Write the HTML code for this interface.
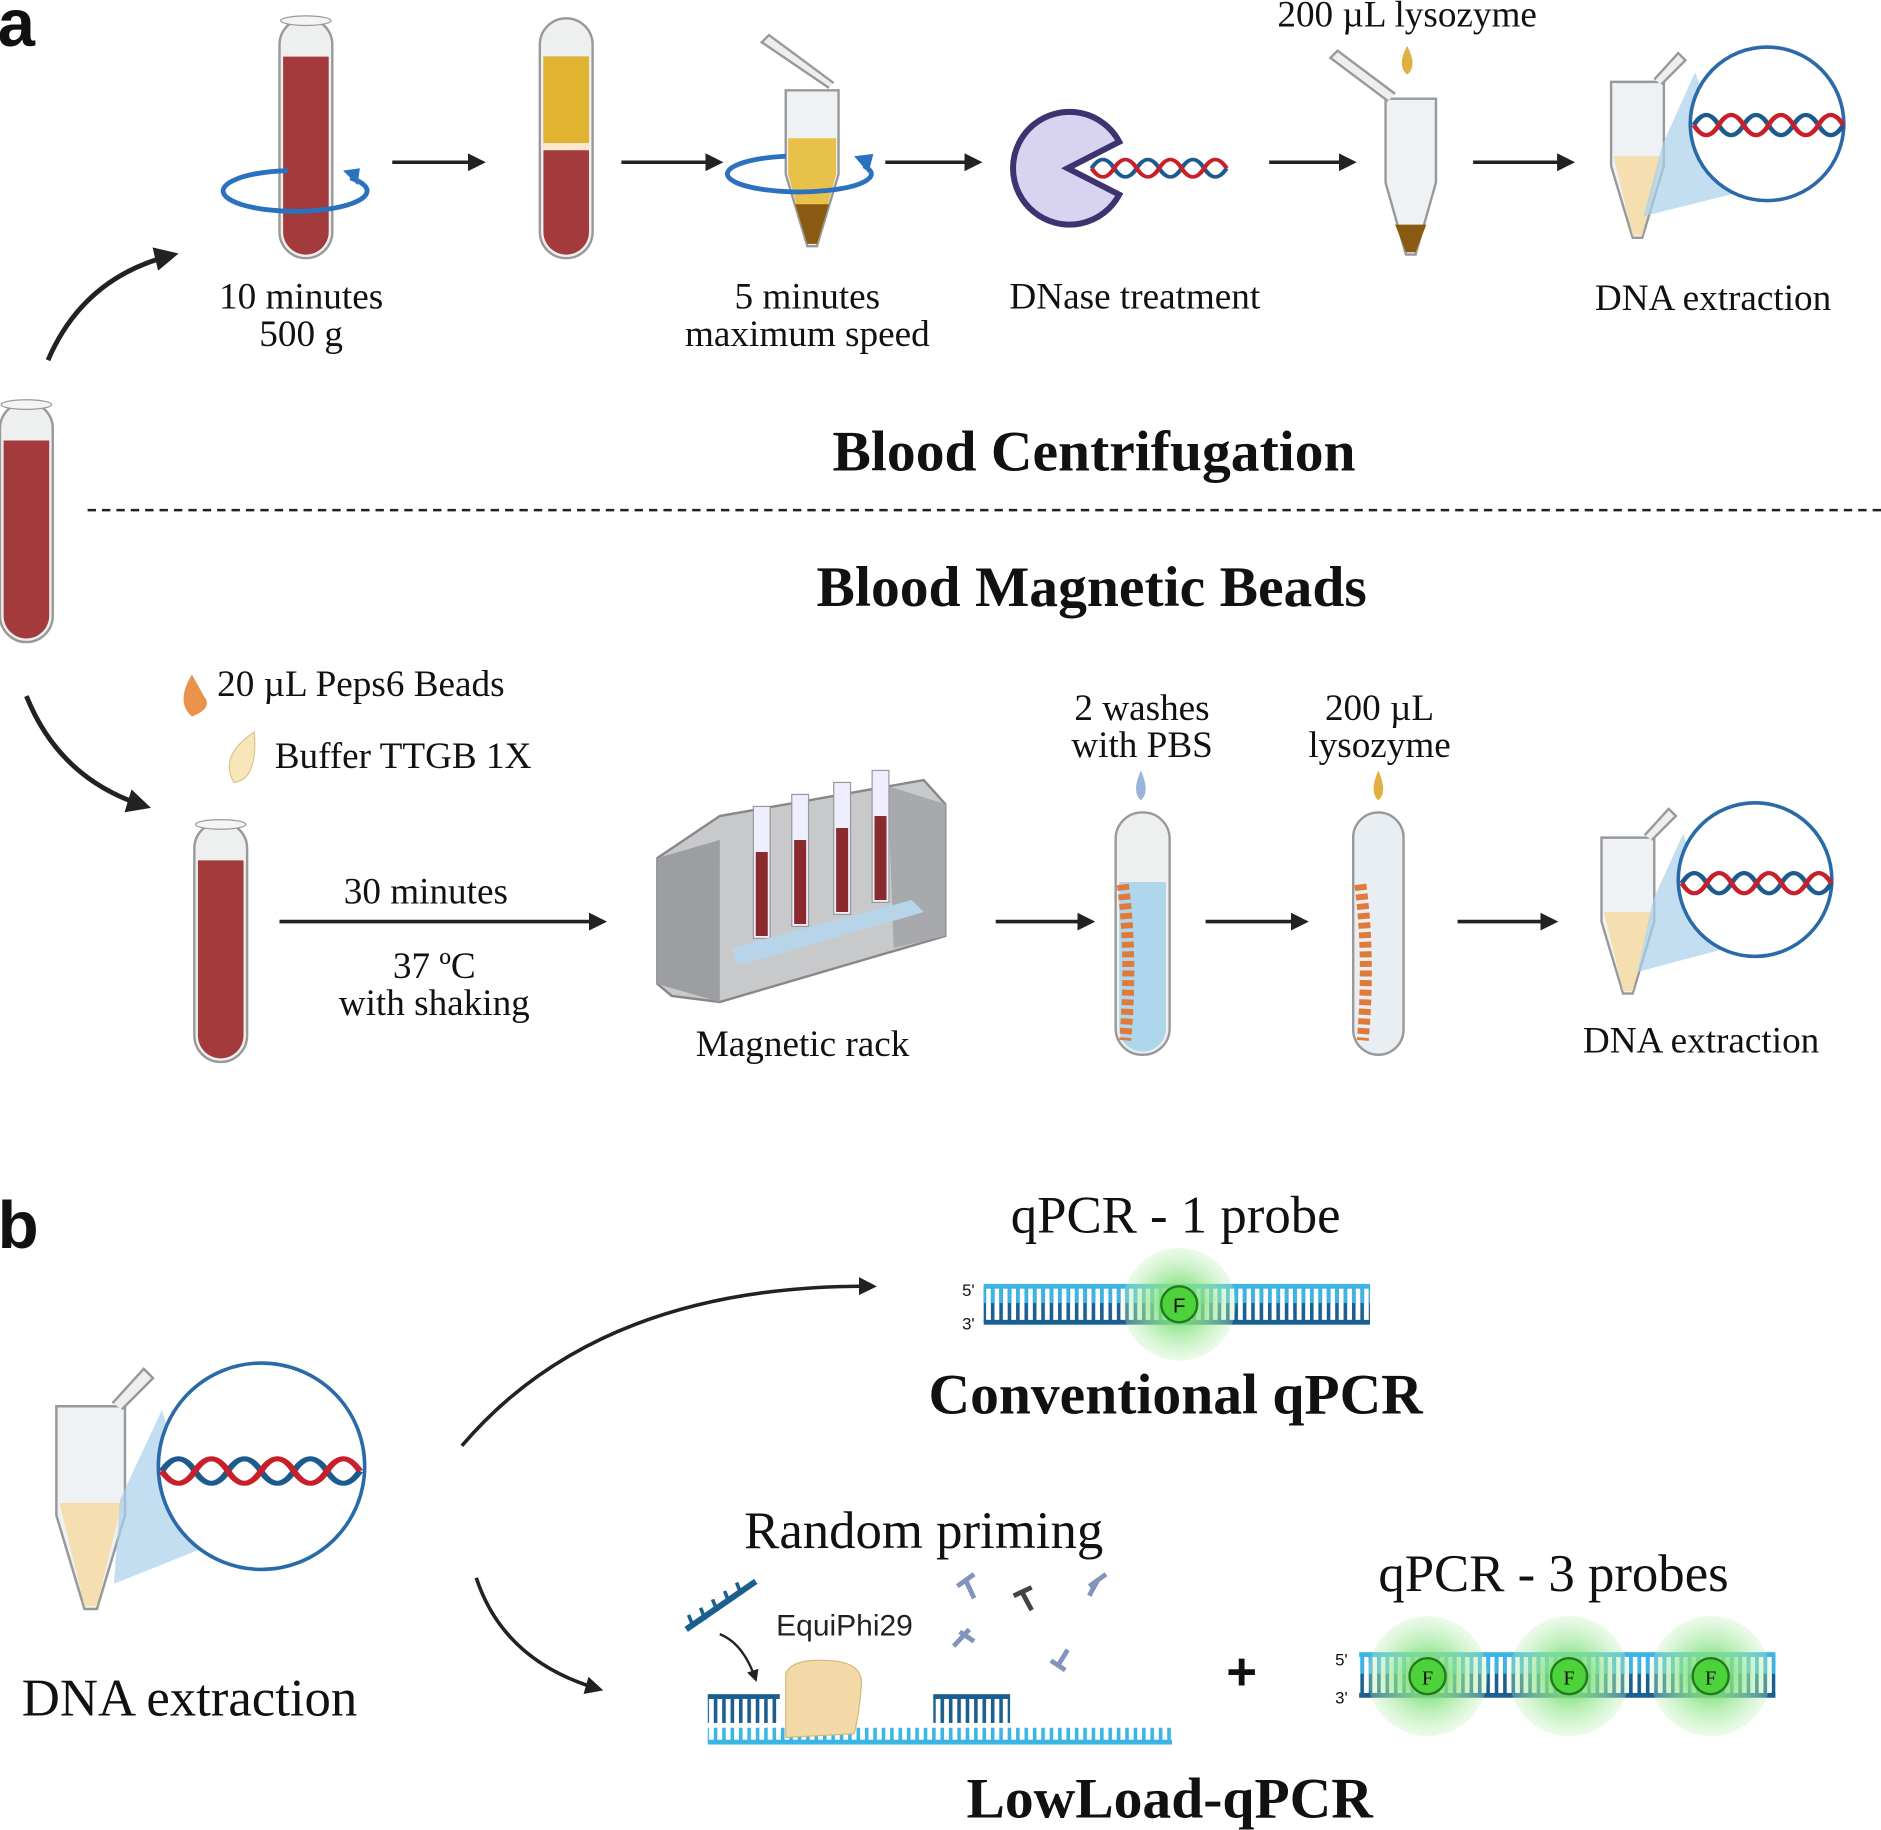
<!DOCTYPE html>
<html><head><meta charset="utf-8"><style>
html,body{margin:0;padding:0;background:#fff;}
svg{display:block;}
text{font-family:"Liberation Serif",serif;fill:#111;}
.s{font-size:31px;}
.t{font-size:48px;font-weight:bold;}
.m{font-size:44px;}
</style></head><body>
<svg width="1881" height="1830" viewBox="0 0 1568 1525" xmlns="http://www.w3.org/2000/svg">
<defs>
<marker id="ah" viewBox="0 0 10 10" refX="8" refY="5" markerWidth="5" markerHeight="5" orient="auto"><path d="M0,0 L10,5 L0,10 z" fill="#222"/></marker>
<pattern id="rungs" width="7" height="40" patternUnits="userSpaceOnUse"><rect x="0" y="0" width="3" height="40" fill="#1a5f8f"/></pattern>
<pattern id="rungs2" width="7" height="40" patternUnits="userSpaceOnUse"><rect x="0" y="0" width="3" height="40" fill="#3bb4e6"/></pattern>
<radialGradient id="glow"><stop offset="0.3" stop-color="#7ee07a" stop-opacity="0.9"/><stop offset="1" stop-color="#bff0b8" stop-opacity="0.3"/></radialGradient>
<g id="tubeR">
 <rect x="0" y="0" width="44" height="200" rx="22" fill="#eef0f0" stroke="#999" stroke-width="2"/>
 <path d="M3,32 H41 V178 A19,19 0 0 1 3,178 Z" fill="#a33a3b"/>
 <ellipse cx="22" cy="2" rx="21" ry="4" fill="#f4f4f4" stroke="#999"/>
</g>
<g id="epp">
 <path d="M0,0 H44 V70 L26,130 H18 L0,70 Z" fill="#eef2f4" stroke="#999" stroke-width="2"/>
 <path d="M2,62 H42 L26,128 H18 Z" fill="#f5deb0"/>
 <path d="M36,-2 L56,-24 L62,-18 L42,2" fill="#eee" stroke="#999" stroke-width="2"/>
</g>
<g id="dna">
 <path d="M0,0 q12.5,-24 25,0 t25,0 t25,0 t25,0 t25,0 t25,0" fill="none" stroke="#1d5a8e" stroke-width="5"/>
 <path d="M0,0 q12.5,24 25,0 t25,0 t25,0 t25,0 t25,0 t25,0" fill="none" stroke="#c8202a" stroke-width="5"/>
</g>
</defs>

<text x="-2" y="38" style="font-family:'Liberation Sans',sans-serif;font-size:56px;font-weight:bold">a</text>
<text x="-2" y="1040" style="font-family:'Liberation Sans',sans-serif;font-size:56px;font-weight:bold">b</text>

<use href="#tubeR" x="0" y="335"/>
<path d="M40,300 Q70,230 145,212" fill="none" stroke="#222" stroke-width="4" marker-end="url(#ah)"/>
<path d="M22,580 Q50,650 122,672" fill="none" stroke="#222" stroke-width="4" marker-end="url(#ah)"/>

<use href="#tubeR" x="233" y="15"/>
<path d="M240,142 A60,17 0 1 0 292,148" fill="none" stroke="#2a72c0" stroke-width="4"/>
<path d="M286,142 L298,154 L300,140 z" fill="#2a72c0"/>
<text x="251" y="257" class="s" text-anchor="middle">10 minutes</text>
<text x="251" y="288" class="s" text-anchor="middle">500 g</text>
<line x1="327" y1="135" x2="402" y2="135" stroke="#222" stroke-width="3" marker-end="url(#ah)"/>

<g transform="translate(450,15)">
 <rect x="0" y="0" width="44" height="200" rx="22" fill="#eef0f0" stroke="#999" stroke-width="2"/>
 <path d="M3,32 H41 V178 A19,19 0 0 1 3,178 Z" fill="#a33a3b"/>
 <rect x="3" y="32" width="38" height="74" fill="#e0b431"/>
 <rect x="3" y="104" width="38" height="6" fill="#fbe6cf"/>
</g>
<line x1="518" y1="135" x2="600" y2="135" stroke="#222" stroke-width="3" marker-end="url(#ah)"/>

<g transform="translate(655,75)">
 <path d="M0,0 H44 V70 L26,130 H18 L0,70 Z" fill="#eef2f4" stroke="#999" stroke-width="2"/>
 <path d="M2,40 H42 V70 L26,128 H18 L2,70 Z" fill="#e8c14a"/>
 <path d="M8,95 H36 L26,128 H18 Z" fill="#8a5a12"/>
 <path d="M36,-2 L-20,-40 L-14,-46 L40,-6" fill="#eee" stroke="#999" stroke-width="2"/>
</g>
<path d="M655,130 A60,15 0 1 0 720,138" fill="none" stroke="#2a72c0" stroke-width="4"/>
<path d="M712,130 L724,144 L728,128 z" fill="#2a72c0"/>
<text x="673" y="257" class="s" text-anchor="middle">5 minutes</text>
<text x="673" y="288" class="s" text-anchor="middle">maximum speed</text>
<line x1="738" y1="135" x2="816" y2="135" stroke="#222" stroke-width="3" marker-end="url(#ah)"/>

<path d="M933,118 A47,47 0 1 0 933,162 L890,140 Z" fill="#d8d3f0" stroke="#3c3470" stroke-width="5"/>
<use href="#dna" x="910" y="140" transform="translate(910,140) scale(0.75,0.6) translate(-910,-140)"/>
<text x="946" y="257" class="s" text-anchor="middle">DNase treatment</text>
<line x1="1058" y1="135" x2="1128" y2="135" stroke="#222" stroke-width="3" marker-end="url(#ah)"/>

<g transform="translate(1155,82)">
 <path d="M0,0 H42 V70 L25,130 H17 L0,70 Z" fill="#eef2f4" stroke="#999" stroke-width="2"/>
 <path d="M8,105 H34 L25,128 H17 Z" fill="#8a5a12"/>
 <path d="M2,2 L-46,-34 L-40,-40 L8,-4" fill="#eee" stroke="#999" stroke-width="2"/>
</g>
<path d="M1173,38 Q1164,55 1173,62 Q1182,55 1173,38 Z" fill="#e0b040"/>
<text x="1173" y="22" class="s" text-anchor="middle">200 µL lysozyme</text>
<line x1="1228" y1="135" x2="1310" y2="135" stroke="#222" stroke-width="3" marker-end="url(#ah)"/>

<use href="#epp" x="1343" y="68"/>
<path d="M1386,120 L1413,60 L1450,160 L1370,180 Z" fill="#a8d0ea" opacity="0.7"/>
<circle cx="1473" cy="103" r="64" fill="#fff" stroke="#2a6aa8" stroke-width="3"/>
<use href="#dna" x="0" y="0" transform="translate(1412,104) scale(0.83,0.7)"/>
<text x="1428" y="258" class="s" text-anchor="middle">DNA extraction</text>

<text x="912" y="392" class="t" text-anchor="middle">Blood Centrifugation</text>
<line x1="73" y1="425" x2="1568" y2="425" stroke="#222" stroke-width="2" stroke-dasharray="7,5"/>
<text x="910" y="505" class="t" text-anchor="middle">Blood Magnetic Beads</text>

<path d="M160,562 Q146,585 160,597 Q178,590 170,580 Z" fill="#e8924a"/>
<text x="181" y="580" class="s">20 µL Peps6 Beads</text>
<path d="M212,610 Q182,630 195,652 Q215,650 212,610 Z" fill="#f6e6b8" stroke="#d8c590"/>
<text x="229" y="640" class="s">Buffer TTGB  1X</text>

<use href="#tubeR" x="162" y="685"/>
<text x="355" y="753" class="s" text-anchor="middle">30 minutes</text>
<line x1="233" y1="768" x2="503" y2="768" stroke="#222" stroke-width="3" marker-end="url(#ah)"/>
<text x="362" y="815" class="s" text-anchor="middle">37 ºC</text>
<text x="362" y="846" class="s" text-anchor="middle">with shaking</text>

<g>
 <path d="M548,715 L600,680 L770,650 L788,670 L788,780 L600,835 L560,830 L548,820 Z" fill="#c8c9cb" stroke="#888" stroke-width="2"/>
 <path d="M548,715 L600,700 L600,835 L548,820 Z" fill="#9c9ea2"/>
 <path d="M740,655 L788,670 L788,780 L745,790 Z" fill="#a7a9ac"/>
 <rect x="628" y="672" width="14" height="110" fill="#eef" stroke="#999"/>
 <rect x="630" y="710" width="10" height="70" fill="#8a2a2e"/>
 <rect x="660" y="662" width="14" height="110" fill="#eef" stroke="#999"/>
 <rect x="662" y="700" width="10" height="70" fill="#8a2a2e"/>
 <rect x="695" y="652" width="14" height="110" fill="#eef" stroke="#999"/>
 <rect x="697" y="690" width="10" height="70" fill="#8a2a2e"/>
 <rect x="727" y="642" width="14" height="110" fill="#eef" stroke="#999"/>
 <rect x="729" y="680" width="10" height="70" fill="#8a2a2e"/>
 <path d="M610,790 L760,750 L770,760 L615,805 Z" fill="#b8d4e8"/>
</g>
<text x="669" y="880" class="s" text-anchor="middle">Magnetic rack</text>
<line x1="830" y1="768" x2="910" y2="768" stroke="#222" stroke-width="3" marker-end="url(#ah)"/>

<g transform="translate(930,677)">
 <rect x="0" y="0" width="45" height="202" rx="22" fill="#eef0f0" stroke="#999" stroke-width="2"/>
 <path d="M3,58 H42 V180 A19.5,19.5 0 0 1 3,180 Z" fill="#aed7ee"/>
 <path d="M6,60 Q14,120 8,190" stroke="#e07a3a" stroke-width="10" stroke-dasharray="5,3" fill="none"/>
</g>
<path d="M951,642 Q943,660 951,667 Q959,660 951,642 Z" fill="#9ab3da"/>
<text x="952" y="600" class="s" text-anchor="middle">2 washes</text>
<text x="952" y="631" class="s" text-anchor="middle">with PBS</text>
<line x1="1005" y1="768" x2="1088" y2="768" stroke="#222" stroke-width="3" marker-end="url(#ah)"/>

<g transform="translate(1128,677)">
 <rect x="0" y="0" width="42" height="202" rx="21" fill="#e9eef2" stroke="#999" stroke-width="2"/>
 <path d="M6,60 Q14,120 8,190" stroke="#e07a3a" stroke-width="10" stroke-dasharray="5,3" fill="none"/>
</g>
<path d="M1149,642 Q1141,660 1149,667 Q1157,660 1149,642 Z" fill="#e0b040"/>
<text x="1150" y="600" class="s" text-anchor="middle">200 µL</text>
<text x="1150" y="631" class="s" text-anchor="middle">lysozyme</text>
<line x1="1215" y1="768" x2="1296" y2="768" stroke="#222" stroke-width="3" marker-end="url(#ah)"/>

<use href="#epp" x="1335" y="698"/>
<path d="M1378,750 L1403,695 L1440,790 L1365,810 Z" fill="#a8d0ea" opacity="0.7"/>
<circle cx="1463" cy="733" r="64" fill="#fff" stroke="#2a6aa8" stroke-width="3"/>
<use href="#dna" x="0" y="0" transform="translate(1402,736) scale(0.83,0.7)"/>
<text x="1418" y="877" class="s" text-anchor="middle">DNA extraction</text>

<g transform="translate(47,1172) scale(1.3)">
 <path d="M0,0 H44 V70 L26,130 H18 L0,70 Z" fill="#eef2f4" stroke="#999" stroke-width="1.6"/>
 <path d="M2,62 H42 L26,128 H18 Z" fill="#f5deb0"/>
 <path d="M36,-2 L56,-24 L62,-18 L42,2" fill="#eee" stroke="#999" stroke-width="1.6"/>
</g>
<path d="M100,1250 L135,1175 L170,1290 L95,1320 Z" fill="#a8d0ea" opacity="0.7"/>
<circle cx="218" cy="1222" r="86" fill="#fff" stroke="#2a6aa8" stroke-width="3"/>
<use href="#dna" x="0" y="0" transform="translate(135,1226) scale(1.1,0.85)"/>
<text x="158" y="1430" class="m" text-anchor="middle">DNA extraction</text>

<path d="M385,1205 Q500,1070 728,1072" fill="none" stroke="#222" stroke-width="3" marker-end="url(#ah)"/>
<path d="M397,1315 Q420,1385 500,1408" fill="none" stroke="#222" stroke-width="3" marker-end="url(#ah)"/>

<text x="980" y="1027" class="m" text-anchor="middle">qPCR - 1 probe</text>
<rect x="820" y="1072" width="322" height="30" fill="url(#rungs)"/>
<rect x="820" y="1072" width="322" height="14" fill="url(#rungs2)"/>
<rect x="820" y="1070" width="322" height="4" fill="#3bb4e6"/>
<rect x="820" y="1100" width="322" height="4" fill="#1a5f8f"/>
<circle cx="983" cy="1087" r="47" fill="url(#glow)"/>
<circle cx="983" cy="1087" r="15" fill="#4ed23c" stroke="#227a1a" stroke-width="2"/>
<text x="983" y="1094" text-anchor="middle" style="font-family:'Liberation Sans',sans-serif;font-size:17px">F</text>
<text x="802" y="1080" style="font-family:'Liberation Sans',sans-serif;font-size:14px">5'</text>
<text x="802" y="1108" style="font-family:'Liberation Sans',sans-serif;font-size:14px">3'</text>
<text x="980" y="1178" class="t" text-anchor="middle">Conventional qPCR</text>

<text x="770" y="1290" class="m" text-anchor="middle">Random priming</text>
<rect x="590" y="1440" width="387" height="12" fill="url(#rungs2)"/>
<rect x="590" y="1450" width="387" height="4" fill="#3bb4e6"/>
<rect x="590" y="1412" width="60" height="4" fill="#1a5f8f"/>
<rect x="590" y="1414" width="60" height="22" fill="url(#rungs)"/>
<rect x="778" y="1412" width="64" height="4" fill="#1a5f8f"/>
<rect x="778" y="1414" width="64" height="22" fill="url(#rungs)"/>
<path d="M572,1358 L630,1318" stroke="#1a5f8f" stroke-width="5"/>
<path d="M578,1356 L574,1346 M588,1350 L584,1340 M598,1343 L594,1333 M608,1336 L604,1326 M618,1329 L614,1319" stroke="#1a5f8f" stroke-width="3"/>
<path d="M600,1362 Q620,1370 630,1400" fill="none" stroke="#222" stroke-width="2" marker-end="url(#ah)"/>
<path d="M655,1395 Q660,1382 690,1384 Q720,1385 718,1405 Q716,1430 712,1445 L655,1448 Z" fill="#f3d9a8" stroke="#d8b878"/>
<text x="647" y="1363" style="font-family:'Liberation Sans',sans-serif;font-size:25px;fill:#222">EquiPhi29</text>
<g stroke="#8294bb" stroke-width="4">
 <path d="M798,1322 L812,1312 M805,1317 L812,1332"/>
 <path d="M908,1322 L922,1312 M915,1317 L908,1330"/>
 <path d="M795,1372 L808,1358 M800,1360 L812,1368"/>
 <path d="M876,1384 L888,1392 M882,1388 L890,1375"/>
</g>
<path d="M845,1330 L860,1323 M852,1327 L860,1342" stroke="#444" stroke-width="4"/>

<text x="1035" y="1408" text-anchor="middle" style="font-family:'Liberation Sans',sans-serif;font-size:44px;font-weight:bold">+</text>

<text x="1295" y="1326" class="m" text-anchor="middle">qPCR - 3 probes</text>
<rect x="1133" y="1380" width="347" height="32" fill="url(#rungs)"/>
<rect x="1133" y="1380" width="347" height="15" fill="url(#rungs2)"/>
<rect x="1133" y="1377" width="347" height="4" fill="#3bb4e6"/>
<rect x="1133" y="1411" width="347" height="4" fill="#1a5f8f"/>
<circle cx="1190" cy="1397" r="50" fill="url(#glow)"/>
<circle cx="1308" cy="1397" r="50" fill="url(#glow)"/>
<circle cx="1426" cy="1397" r="50" fill="url(#glow)"/>
<g style="font-family:'Liberation Sans',sans-serif;font-size:17px">
<circle cx="1190" cy="1397" r="15" fill="#4ed23c" stroke="#227a1a" stroke-width="2"/><text x="1190" y="1404" text-anchor="middle">F</text>
<circle cx="1308" cy="1397" r="15" fill="#4ed23c" stroke="#227a1a" stroke-width="2"/><text x="1308" y="1404" text-anchor="middle">F</text>
<circle cx="1426" cy="1397" r="15" fill="#4ed23c" stroke="#227a1a" stroke-width="2"/><text x="1426" y="1404" text-anchor="middle">F</text>
</g>
<text x="1113" y="1388" style="font-family:'Liberation Sans',sans-serif;font-size:14px">5'</text>
<text x="1113" y="1420" style="font-family:'Liberation Sans',sans-serif;font-size:14px">3'</text>
<text x="975" y="1515" class="t" text-anchor="middle">LowLoad-qPCR</text>
</svg>
</body></html>
